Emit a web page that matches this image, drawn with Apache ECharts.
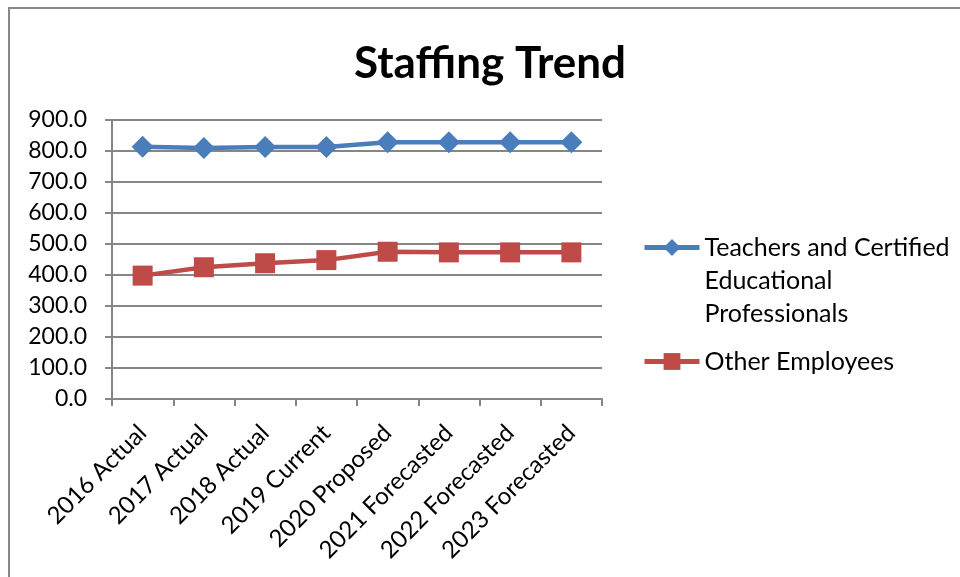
<!DOCTYPE html>
<html>
<head>
<meta charset="utf-8">
<script src="https://cdn.jsdelivr.net/npm/echarts@6/dist/echarts.min.js"></script>
<style>html,body{margin:0;padding:0;background:#fff}#c{width:960px;height:577px}</style>
</head>
<body>
<div id="c"></div>
<script>
const categories = ['2016 Actual','2017 Actual','2018 Actual','2019 Current','2020 Proposed','2021 Forecasted','2022 Forecasted','2023 Forecasted'];
const teachers = [814, 810, 813, 813, 828, 828, 828, 828];
const others = [398, 425, 438, 448, 475, 473, 473, 473];
const seriesNames = ['Teachers and Certified\nEducational\nProfessionals', 'Other Employees'];
const FONT = 'Lato, "Open Sans", sans-serif';

const chart = echarts.init(document.getElementById('c'), null, {renderer:'canvas'});
chart.setOption({
  animation: false,
  backgroundColor: '#fff',
  title: {
    text: 'Staffing Trend', left: 485, textAlign: 'center', top: 37,
    textStyle: {fontFamily: FONT, fontSize: 44, fontWeight: 'bold', color: '#000'}
  },
  graphic: [{
    type: 'rect', shape: {x: 9, y: 8, width: 1000, height: 700},
    style: {fill: 'none', stroke: '#888', lineWidth: 2}, silent: true
  }],
  legend: {
    orient: 'vertical', left: 637, top: 160, itemWidth: 55, itemHeight: 21, itemGap: 15,
    lineStyle: {width: 5},
    textStyle: {fontFamily: FONT, fontSize: 25, color: '#000', lineHeight: 33},
    formatter: name => name === seriesNames[0] ? '\n\n' + name : name,
    data: seriesNames
  },
  grid: {left: 112, right: 358, top: 120, bottom: 178, containLabel: false},
  xAxis: {
    type: 'category', data: categories, boundaryGap: true,
    axisLine: {lineStyle: {color: '#868686', width: 2}},
    axisTick: {show: true, length: 7, lineStyle: {color: '#868686', width: 2}},
    axisLabel: {rotate: 45, fontFamily: FONT, fontSize: 24, color: '#000', margin: 30, interval: 0}
  },
  yAxis: {
    type: 'value', min: 0, max: 900, interval: 100,
    axisLine: {show: true, lineStyle: {color: '#868686', width: 2}},
    axisTick: {show: true, length: 7, lineStyle: {color: '#868686', width: 2}},
    splitLine: {lineStyle: {color: '#868686', width: 2}},
    axisLabel: {fontFamily: FONT, fontSize: 23, color: '#000', margin: 25, formatter: v => v.toFixed(1)}
  },
  series: [
    {name: seriesNames[0], type: 'line', data: teachers, symbol: 'diamond', symbolSize: 22,
     lineStyle: {color: '#4a7ebb', width: 4.5}, itemStyle: {color: '#4a7ebb'}},
    {name: seriesNames[1], type: 'line', data: others, symbol: 'rect', symbolSize: 20,
     lineStyle: {color: '#be4b48', width: 4.5}, itemStyle: {color: '#be4b48'}}
  ]
});
</script>
</body>
</html>
